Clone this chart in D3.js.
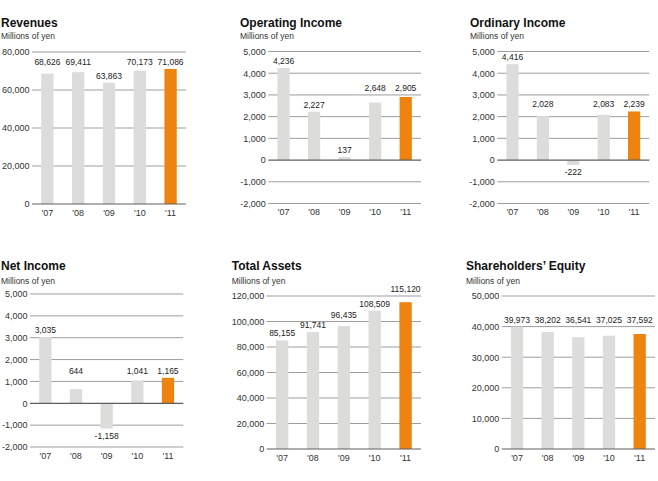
<!DOCTYPE html>
<html>
<head>
<meta charset="utf-8">
<script src="https://cdn.jsdelivr.net/npm/d3@7"></script>
<style>
  html, body { margin: 0; padding: 0; background: #fff; }
  svg { display: block; }
  text { font-family: "Liberation Sans", Arial, Helvetica, sans-serif; }
</style>
</head>
<body>
<svg id="chart" width="658" height="481"></svg>
<script>
// ---------- DATA ----------
const years = ["'07", "'08", "'09", "'10", "'11"];

const revenues        = [68626, 69411, 63863, 70173, 71086];
const operatingIncome = [4236, 2227, 137, 2648, 2905];
const ordinaryIncome  = [4416, 2028, -222, 2083, 2239];
const netIncome       = [3035, 644, -1158, 1041, 1165];
const totalAssets     = [85155, 91741, 96435, 108509, 115120];
const equity          = [39973, 38202, 36541, 37025, 37592];

const revenueTicks = [0, 20000, 40000, 60000, 80000];
const incomeTicks  = [-2000, -1000, 0, 1000, 2000, 3000, 4000, 5000];
const assetsTicks  = [0, 20000, 40000, 60000, 80000, 100000, 120000];
const equityTicks  = [0, 10000, 20000, 30000, 40000, 50000];

const titles = ["Revenues", "Operating Income", "Ordinary Income",
                "Net Income", "Total Assets", "Shareholders\u2019 Equity"];
const unitLabel = "Millions of yen";

// ---------- LAYOUT ----------
const panels = [
  { title: titles[0], values: revenues,        ticks: revenueTicks, x0: 32,    x1: 186,   top: 52,    bottom: 204,   tx: 1,     ty: 27,   sy: 38.5,  align: true },
  { title: titles[1], values: operatingIncome, ticks: incomeTicks,  x0: 268.3, x1: 421,   top: 51.5,  bottom: 203.5, tx: 240,   ty: 26.5, sy: 38.5,  align: true },
  { title: titles[2], values: ordinaryIncome,  ticks: incomeTicks,  x0: 497.3, x1: 649.3, top: 51.5,  bottom: 203.5, tx: 470,   ty: 26.5, sy: 38.5,  align: true },
  { title: titles[3], values: netIncome,       ticks: incomeTicks,  x0: 30,    x1: 183.3, top: 294,   bottom: 447,   tx: 1,     ty: 270,  sy: 283.5, align: true },
  { title: titles[4], values: totalAssets,     ticks: assetsTicks,  x0: 266.7, x1: 421,   top: 296,   bottom: 449,   tx: 231.7, ty: 270,  sy: 283.5, align: false },
  { title: titles[5], values: equity,          ticks: equityTicks,  x0: 501.7, x1: 655,   top: 296,   bottom: 449,   tx: 466,   ty: 270,  sy: 283.5, align: true }
];

const fmt = d3.formatLocale({ decimal: ".", thousands: ",", grouping: [3], currency: ["", ""], minus: "-" }).format(",");

const GREY = "#dcdddb";
const ORANGE = "#ef830f";
const GRID = "#9d9d9d";
const ZERO = "#5e5e5e";

const svg = d3.select("#chart");
svg.append("rect").attr("width", 658).attr("height", 481).attr("fill", "#fff");

panels.forEach(p => {
  const g = svg.append("g");
  const ext = d3.extent(p.ticks);
  const y = d3.scaleLinear().domain(ext).range([p.bottom, p.top]);
  const x = d3.scaleBand().domain(years).range([p.x0, p.x1]).paddingInner(0.6).paddingOuter(0.3);

  // title & unit
  g.append("text").attr("x", p.tx).attr("y", p.ty)
    .attr("font-size", 12).attr("font-weight", "bold").attr("fill", "#111").text(p.title);
  g.append("text").attr("x", p.tx).attr("y", p.sy)
    .attr("font-size", 8.5).attr("fill", "#333").text(unitLabel);

  // gridlines (non-zero)
  g.selectAll(".grid").data(p.ticks.filter(t => t !== 0)).enter().append("line")
    .attr("x1", p.x0).attr("x2", p.x1)
    .attr("y1", d => y(d)).attr("y2", d => y(d))
    .attr("stroke", GRID).attr("stroke-width", 1);

  // tick labels
  g.selectAll(".tl").data(p.ticks).enter().append("text")
    .attr("x", p.x0 - 2.5).attr("y", d => y(d) + 3.3)
    .attr("text-anchor", "end").attr("font-size", 9).attr("fill", "#333")
    .text(d => fmt(d));

  // bars
  g.selectAll(".bar").data(p.values).enter().append("rect")
    .attr("x", (d, i) => x(years[i]))
    .attr("width", x.bandwidth())
    .attr("y", d => Math.min(y(d), y(0)))
    .attr("height", d => Math.abs(y(d) - y(0)))
    .attr("fill", (d, i) => i === years.length - 1 ? ORANGE : GREY);

  // zero line
  g.append("line").attr("x1", p.x0).attr("x2", p.x1)
    .attr("y1", y(0)).attr("y2", y(0))
    .attr("stroke", ZERO).attr("stroke-width", 1.2);

  // x-axis labels
  g.selectAll(".xl").data(years).enter().append("text")
    .attr("x", d => x(d) + x.bandwidth() / 2)
    .attr("y", p.bottom + 11.5)
    .attr("text-anchor", "middle").attr("font-size", 9).attr("fill", "#333")
    .text(d => d);

  // value label placement: above bar, avoid crossing gridlines, optional alignment
  const base = p.values.map(v => {
    if (v < 0) return y(v) + 10.5;
    let b = y(v) - 4;
    p.ticks.forEach(t => {
      const gy = y(t);
      if (t !== 0 && gy > b - 6.5 && gy < b + 1) b = gy - 4;
    });
    return b;
  });
  if (p.align) {
    const idx = p.values.map((v, i) => i).filter(i => p.values[i] >= 0)
      .sort((a, b) => y(p.values[a]) - y(p.values[b]));
    let cluster = [];
    let cTop = null;
    const flush = () => {
      if (cluster.length) {
        const m = d3.min(cluster, i => base[i]);
        cluster.forEach(i => base[i] = m);
      }
    };
    idx.forEach(i => {
      const t = y(p.values[i]);
      if (cTop === null || t - cTop >= 12) { flush(); cluster = [i]; cTop = t; }
      else cluster.push(i);
    });
    flush();
  }

  g.selectAll(".vl").data(p.values).enter().append("text")
    .attr("x", (d, i) => x(years[i]) + x.bandwidth() / 2)
    .attr("y", (d, i) => base[i])
    .attr("text-anchor", "middle").attr("font-size", 8.5).attr("fill", "#222")
    .text(d => fmt(d));
});
</script>
</body>
</html>
